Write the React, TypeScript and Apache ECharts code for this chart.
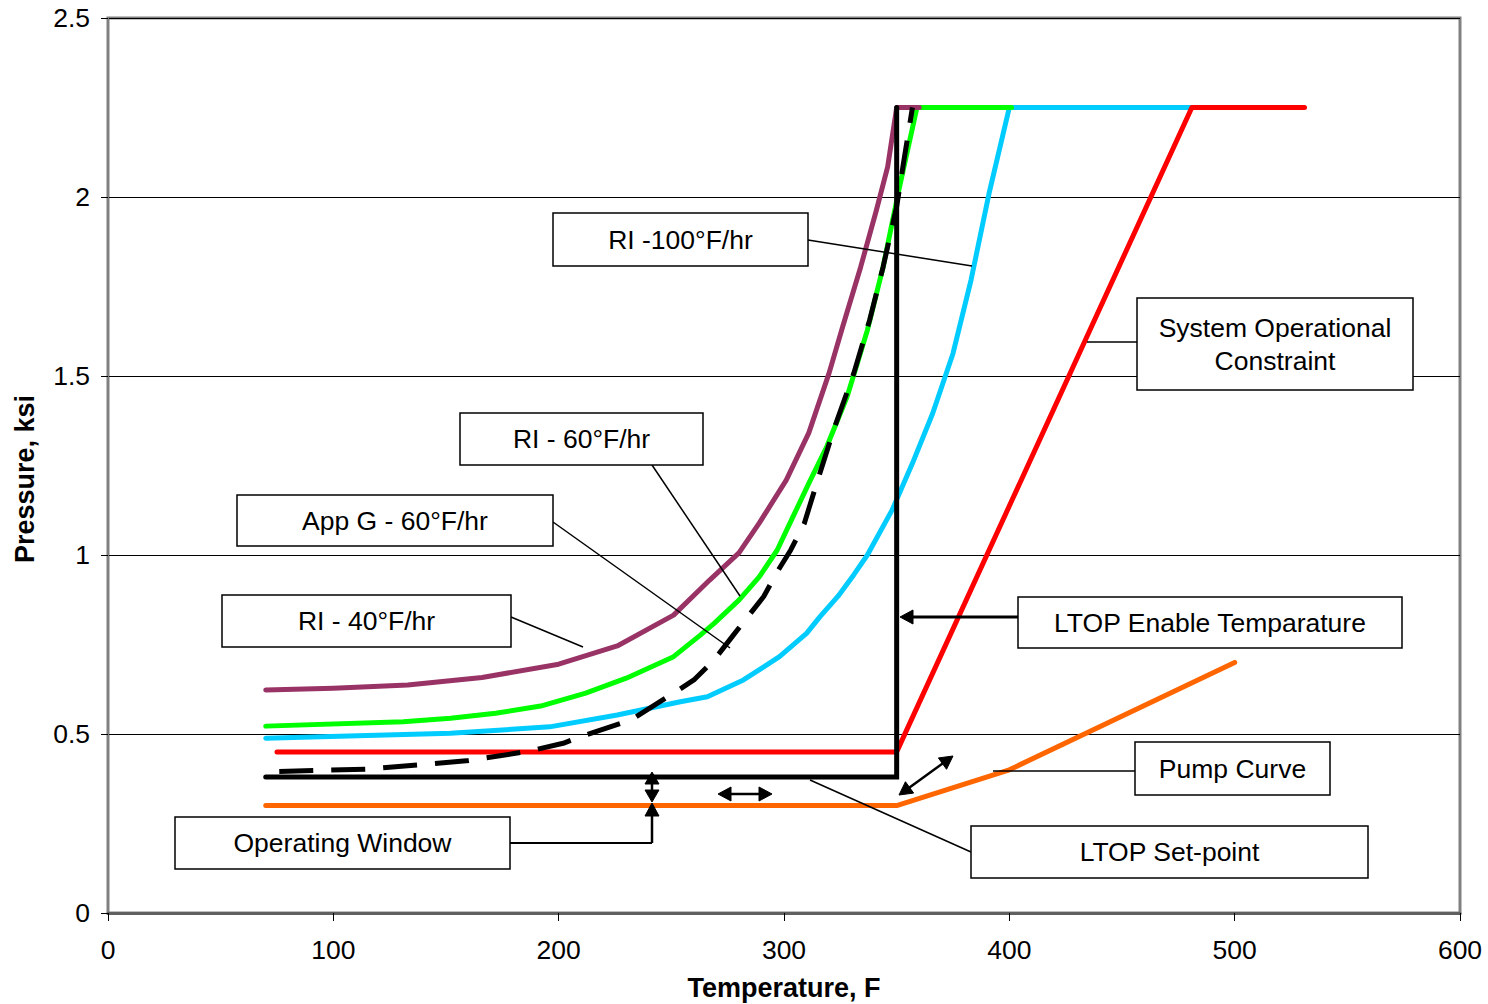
import React, { useEffect, useRef } from "react";
import * as echarts from "echarts";

const FONT = '"Liberation Sans", Arial, Helvetica, sans-serif';

// Temperature (F), Pressure (ksi)
const ri40: number[][] = [[70,0.623],[100,0.628],[133,0.637],[166,0.658],[200,0.695],[226,0.746],[251,0.832],[267,0.93],[280,1.006],[289,1.089],[301,1.209],[311,1.341],[320,1.508],[326,1.637],[334,1.804],[341,1.963],[346,2.084],[350,2.25],[360,2.25]];
const ri60: number[][] = [[70,0.522],[131,0.534],[152,0.544],[172,0.558],[192,0.578],[212,0.614],[230,0.656],[251,0.716],[263,0.777],[269,0.809],[280,0.874],[289,0.939],[297,1.014],[304,1.107],[311,1.2],[319,1.303],[328,1.442],[337,1.628],[344,1.805],[351,2.02],[359,2.25],[401,2.25]];
const appG60: number[][] = [[76,0.395],[115,0.402],[159,0.425],[186,0.451],[202,0.474],[210,0.493],[232,0.539],[251,0.614],[260,0.651],[269,0.707],[277,0.772],[284,0.828],[291,0.884],[297,0.953],[303,1.014],[309,1.088],[314,1.19],[322,1.349],[331,1.508],[338,1.656],[344,1.805],[350,1.973],[353,2.094],[357,2.25]];
const ri100: number[][] = [[70,0.488],[152,0.502],[196,0.52],[226,0.553],[254,0.59],[266,0.604],[282,0.651],[298,0.716],[310,0.781],[316,0.828],[324,0.885],[331,0.945],[337,1.0],[348,1.126],[357,1.256],[366,1.396],[375,1.563],[383,1.768],[391,2.01],[400,2.25],[481,2.25]];
const sysConstraint: number[][] = [[75,0.45],[350,0.45],[481,2.25],[531,2.25]];
const ltopSetpoint: number[][] = [[70,0.38],[350,0.38],[350,2.25]];
const pumpCurve: number[][] = [[70,0.3],[350,0.3],[400,0.4],[500,0.7]];

const xTicks = { min: 0, max: 600, interval: 100 };
const yTicks = { min: 0, max: 2.5, interval: 0.5 };

const FS = 26.5;

function arrowHead(tx: number, ty: number, fx: number, fy: number, len = 13, hw = 7) {
  const dx = tx - fx, dy = ty - fy;
  const L = Math.sqrt(dx * dx + dy * dy) || 1;
  const ux = dx / L, uy = dy / L;
  const bx = tx - ux * len, by = ty - uy * len;
  const px = -uy, py = ux;
  return {
    type: "polygon",
    z: 120,
    shape: { points: [[tx, ty], [bx + px * hw, by + py * hw], [bx - px * hw, by - py * hw]] },
    style: { fill: "#000", stroke: "#000", lineWidth: 1 },
  };
}

function seg(x1: number, y1: number, x2: number, y2: number, w = 1.5) {
  return {
    type: "line",
    z: 110,
    shape: { x1, y1, x2, y2 },
    style: { stroke: "#000", lineWidth: w },
  };
}

function box(x: number, y: number, w: number, h: number, lines: string[]) {
  const els: any[] = [
    {
      type: "rect",
      z: 115,
      shape: { x, y, width: w, height: h },
      style: { fill: "#fff", stroke: "#000", lineWidth: 1.5 },
    },
  ];
  const lh = 33;
  const cy = y + h / 2;
  lines.forEach((t, i) => {
    els.push({
      type: "text",
      z: 116,
      x: x + w / 2,
      y: cy + (i - (lines.length - 1) / 2) * lh,
      style: {
        text: t,
        fill: "#000",
        fontSize: FS,
        fontFamily: FONT,
        align: "center",
        verticalAlign: "middle",
      },
    });
  });
  return els;
}

function doubleArrow(x1: number, y1: number, x2: number, y2: number, w = 2.5, len = 12, hw = 7) {
  const dx = x2 - x1, dy = y2 - y1;
  const L = Math.sqrt(dx * dx + dy * dy);
  const ux = dx / L, uy = dy / L;
  return [
    seg(x1 + ux * len * 0.8, y1 + uy * len * 0.8, x2 - ux * len * 0.8, y2 - uy * len * 0.8, w),
    arrowHead(x1, y1, x2, y2, len, hw),
    arrowHead(x2, y2, x1, y1, len, hw),
  ];
}

export default function App() {
  const ref = useRef<HTMLDivElement>(null);
  useEffect(() => {
    if (!ref.current) return;
    const chart = echarts.init(ref.current, null, { renderer: "svg" });

    const lineSeries = (name: string, data: number[][], color: string, extra: any = {}) => ({
      name,
      type: "line",
      data,
      symbol: "none",
      showSymbol: false,
      smooth: false,
      lineStyle: { color, width: 5, cap: "round", join: "round", ...extra },
      z: 3,
    });

    const graphics: any[] = [
      // axis titles
      {
        type: "text",
        z: 100,
        x: 784,
        y: 988,
        style: { text: "Temperature, F", fill: "#000", fontSize: 27, fontWeight: "bold", fontFamily: FONT, align: "center", verticalAlign: "middle" },
      },
      {
        type: "text",
        z: 100,
        x: 25,
        y: 479,
        rotation: Math.PI / 2,
        style: { text: "Pressure, ksi", fill: "#000", fontSize: 27, fontWeight: "bold", fontFamily: FONT, align: "center", verticalAlign: "middle" },
      },
      // leader lines
      seg(808, 240, 972, 266),
      seg(1137, 342, 1087, 342),
      seg(652, 465, 740, 596),
      seg(553, 522, 730, 648),
      seg(511, 617, 583, 647),
      seg(1135, 771, 993, 771),
      seg(971, 852, 810, 780),
      // LTOP enable arrow
      seg(1018, 617, 910, 617, 3),
      arrowHead(900, 617, 1018, 617, 13, 7),
      // operating window leader
      seg(510, 843, 652, 843, 2),
      seg(652, 843, 652, 814, 2.5),
      arrowHead(652, 803, 652, 843, 13, 7),
      // double arrows
      ...doubleArrow(652, 772, 652, 802, 2.5, 12, 7),
      ...doubleArrow(718, 794, 772, 794, 2.5, 13, 7),
      ...doubleArrow(899, 795, 953, 756, 2.5, 13, 7),
      // boxes
      ...box(553, 213, 255, 53, ["RI -100°F/hr"]),
      ...box(1137, 298, 276, 92, ["System Operational", "Constraint"]),
      ...box(460, 413, 243, 52, ["RI - 60°F/hr"]),
      ...box(237, 495, 316, 51, ["App G - 60°F/hr"]),
      ...box(222, 595, 289, 52, ["RI - 40°F/hr"]),
      ...box(1018, 597, 384, 51, ["LTOP Enable Temparature"]),
      ...box(1135, 742, 195, 53, ["Pump Curve"]),
      ...box(971, 826, 397, 52, ["LTOP Set-point"]),
      ...box(175, 817, 335, 52, ["Operating Window"]),
    ];

    chart.setOption({
      animation: false,
      backgroundColor: "#fff",
      textStyle: { fontFamily: FONT },
      grid: {
        left: 108,
        top: 18,
        right: 28,
        bottom: 91,
        show: true,
        borderColor: "#808080",
        borderWidth: 3,
        backgroundColor: "transparent",
      },
      xAxis: {
        type: "value",
        min: xTicks.min,
        max: xTicks.max,
        interval: xTicks.interval,
        axisLine: { show: true, lineStyle: { color: "#606060", width: 3 } },
        axisTick: { show: true, inside: false, length: 8, lineStyle: { color: "#000", width: 1 } },
        axisLabel: { color: "#000", fontSize: FS, fontFamily: FONT, margin: 23 },
        splitLine: { show: false },
      },
      yAxis: {
        type: "value",
        min: yTicks.min,
        max: yTicks.max,
        interval: yTicks.interval,
        axisLine: { show: true, lineStyle: { color: "#808080", width: 2 } },
        axisTick: { show: true, inside: false, length: 7, lineStyle: { color: "#000", width: 1 } },
        axisLabel: { color: "#000", fontSize: FS, fontFamily: FONT, margin: 18 },
        splitLine: { show: true, lineStyle: { color: "#000", width: 1 } },
      },
      series: [
        lineSeries("RI - 100°F/hr", ri100, "#00CCFF"),
        lineSeries("RI - 60°F/hr", ri60, "#00FF00"),
        lineSeries("RI - 40°F/hr", ri40, "#993366"),
        lineSeries("System Operational Constraint", sysConstraint, "#FF0000"),
        lineSeries("Pump Curve", pumpCurve, "#FF6600"),
        lineSeries("App G - 60°F/hr", appG60, "#000000", { type: [34, 18], cap: "butt" }),
        lineSeries("LTOP Set-point", ltopSetpoint, "#000000", { join: "miter" }),
      ],
      graphic: { elements: graphics },
    });

    return () => chart.dispose();
  }, []);

  return (
    <div
      ref={ref}
      style={{ position: "fixed", left: 0, top: 0, width: 1488, height: 1004, background: "#fff" }}
    />
  );
}
